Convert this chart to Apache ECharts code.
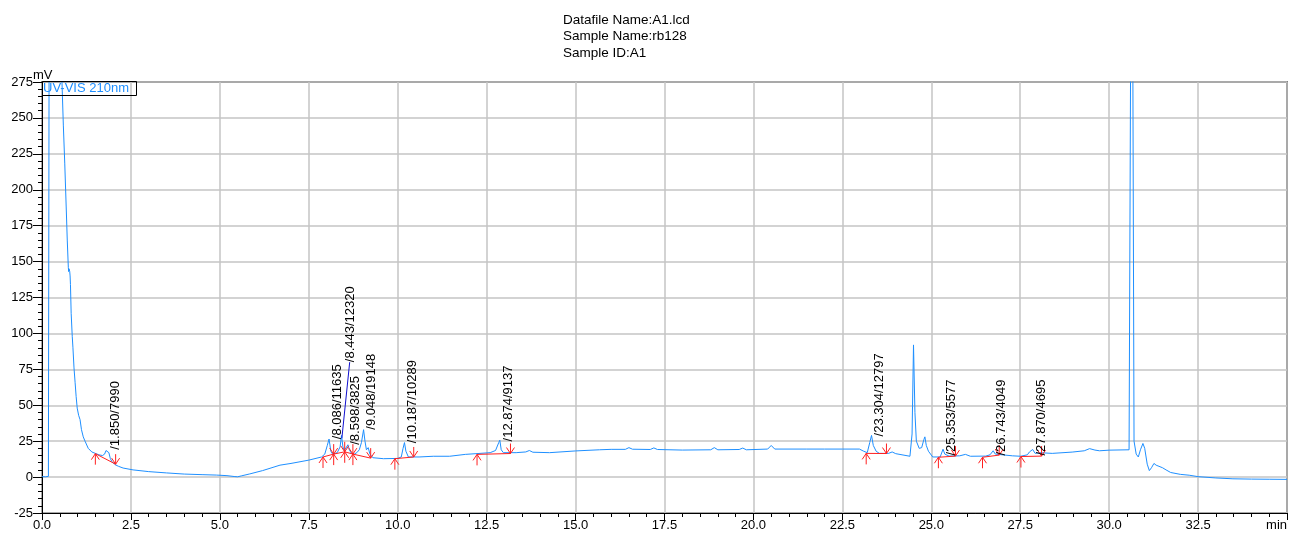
<!DOCTYPE html>
<html>
<head>
<meta charset="utf-8">
<script src="https://cdn.jsdelivr.net/npm/echarts@6/dist/echarts.min.js"></script>
<style>
html,body{margin:0;padding:0;background:#fff;}
#chart{width:1290px;height:535px;}
</style>
</head>
<body>
<div id="chart"></div>
<script>
// ---- chromatogram trace (time in min, signal in mV) ----
const timeMin = [
  0.00,0.05,0.10,0.15,0.18,0.20,0.35,0.53,0.60,0.64,0.68,0.71,0.74,0.75,0.76,0.78,0.79,0.80,0.82,0.85,
  0.87,0.90,0.93,0.96,0.99,1.03,1.07,1.11,1.16,1.21,1.30,1.40,1.50,1.60,1.70,1.76,1.80,1.84,1.88,1.92,
  1.96,2.05,2.15,2.28,2.56,3.00,3.50,4.00,4.50,4.90,5.20,5.40,5.50,5.60,5.84,6.20,6.69,7.00,7.50,7.86,
  7.95,8.02,8.07,8.12,8.17,8.24,8.30,8.38,8.42,8.46,8.50,8.55,8.60,8.64,8.70,8.78,8.85,8.92,8.98,9.04,
  9.08,9.12,9.17,9.22,9.30,9.60,10.00,10.10,10.15,10.19,10.23,10.30,10.60,11.00,11.46,11.90,12.20,12.60,12.75,12.84,
  12.87,12.91,12.97,13.33,13.60,13.70,13.80,14.27,15.00,15.67,16.00,16.40,16.50,16.60,17.10,17.20,17.30,18.00,18.80,18.90,
  19.00,19.60,19.70,19.80,20.40,20.50,20.60,21.50,22.00,22.50,22.98,23.10,23.20,23.27,23.32,23.37,23.45,23.54,23.80,23.90,
  24.00,24.40,24.46,24.50,24.54,24.58,24.66,24.73,24.79,24.82,24.86,24.92,25.04,25.25,25.33,25.38,25.50,25.80,25.96,26.10,
  26.53,26.65,26.74,26.80,27.00,27.28,27.51,27.70,27.76,27.80,27.85,27.92,28.04,28.40,28.96,29.30,29.45,29.50,29.60,29.73,
  30.00,30.56,30.59,30.605,30.635,30.665,30.70,30.76,30.82,30.88,30.95,31.00,31.07,31.13,31.19,31.26,31.32,31.40,31.50,31.60,
  31.73,32.00,32.25,32.50,33.00,33.48,34.00,34.50,35.00
];
const signalMV = [
  0.3,-0.5,0.2,0.3,0.5,300,1200,300,245,218,188,165,146,143,145,143,140,134,114,98,
  90,76,66,56,48,43,40,33,28,25,20,17.5,16.5,15.5,15,16,18.5,19.5,17,13,
  11,8.7,7.5,6.3,5,3.8,2.9,2.1,1.7,1.4,1.0,0.4,0.2,0.8,2.2,4.5,8.3,9.5,11.8,14,
  16,22,26.5,18,16,16.5,17,21,29,21,18.5,19,22.5,19,16.5,16,17,19,24,33,
  25,19,20.5,16,13.5,12.8,13,14,20,24,18,14,14,14.5,14.5,15.8,16.3,17,18.5,24,
  25.7,19,17,17,17.5,18.5,17.3,17,18.2,19,19.3,19.3,20.5,19.4,19.2,20.3,19.2,18.8,19,20.5,
  19,19.2,20.2,19,19.5,22,19.5,19.5,19.5,19.5,19.5,18,17,24,29,22,18,16.5,16.5,17.5,
  16.3,14.5,30,92,45,25,20,20.5,26,28,22,18,14,14,19.4,16,14.6,14.8,15.8,14.5,
  14.6,15.5,18.3,16,15.5,14.8,14.5,15.5,17.5,16.5,19.2,16.5,17,16.5,17.4,18.3,19.8,20,18.8,18.3,
  18.75,19,19.5,300,1500,300,25,16,14,19,23.4,20,9,4.5,6.5,9.5,8.3,7.5,6.5,5,
  3.2,1.9,1.3,0.3,-0.6,-1.2,-1.4,-1.5,-1.6
];

// ---- integrated peaks ----
const peakRT    = [1.850, 8.086, 8.443, 8.598, 9.048, 10.187, 12.874, 23.304, 25.353, 26.743, 27.870];
const peakArea  = [7990, 11635, 12320, 3825, 19148, 10289, 9137, 12797, 5577, 4049, 4695];
const labelBaseMV = [19, 26.4, 80, 22.5, 33, 23.6, 24.8, 28.3, 15, 15, 15];
// integration baseline start / end (min, mV)
const intStartT = [1.50, 7.90, 8.20, 8.51, 8.74, 9.92, 12.23, 23.17, 25.20, 26.44, 27.52];
const intStartV = [16.3, 14.0, 16.0, 17.6, 16.0, 12.8, 15.8, 16.5, 13.8, 13.8, 14.3];
const intEndT   = [2.07, 8.20, 8.51, 8.74, 9.24, 10.45, 13.17, 23.74, 25.68, 26.91, 28.10];
const intEndV   = [9.0, 16.0, 17.6, 16.0, 13.2, 14.0, 16.4, 16.4, 14.6, 15.3, 14.6];
// leader line for the crowded label (peak index, from, to)
const leaderPeak = 2;
const leaderFrom = [8.43, 27];
const leaderTo   = [8.65, 80];

// ---- axes ----
const xMin = 0, xMax = 35, xStep = 2.5;
const yMin = -25, yMax = 275, yStep = 25;

const headerLines = ['Datafile Name:A1.lcd', 'Sample Name:rb128', 'Sample ID:A1'];
const channelName = 'UV-VIS 210nm';
const yUnit = 'mV';

const FONT = '"Liberation Sans", Arial, sans-serif';
const BLUE = '#1e8fff';
const RED = '#ff2020';

const traceData = timeMin.map((t, i) => [t, signalMV[i]]);
const intData = intStartT.map((t, i) => [t, intStartV[i], intEndT[i], intEndV[i]]);
const labelData = peakRT.map((t, i) => i === leaderPeak ? [leaderTo[0], leaderTo[1]] : [t, labelBaseMV[i]]);

const chart = echarts.init(document.getElementById('chart'));
chart.setOption({
  animation: false,
  backgroundColor: '#fff',
  title: {
    text: headerLines.join('\n'),
    left: 563, top: 12, padding: 0,
    textStyle: { fontFamily: FONT, fontSize: 13.5, fontWeight: 'normal', color: '#000', lineHeight: 16.5 }
  },
  grid: { left: 42, right: 3, top: 82, bottom: 22, show: true, borderColor: '#222', borderWidth: 1.5, backgroundColor: 'transparent' },
  graphic: [
    { type: 'rect', left: 42, top: 81, shape: { width: 94, height: 14 }, style: { fill: 'transparent', stroke: '#000', lineWidth: 1 }, z: 100 },
    { type: 'text', left: 43, top: 81.5, style: { text: channelName, fill: BLUE, font: '13px ' + FONT }, z: 101 },
    { type: 'text', left: 33, top: 68.5, style: { text: yUnit, fill: '#000', font: '13px ' + FONT }, z: 101 }
  ],
  xAxis: {
    type: 'value', min: xMin, max: xMax, interval: xStep,
    axisLine: { onZero: false, lineStyle: { color: '#000', width: 1 } },
    axisTick: { show: true, length: 7, lineStyle: { color: '#000' } },
    minorTick: { show: true, splitNumber: 5, length: 4, lineStyle: { color: '#000' } },
    splitLine: { show: true, lineStyle: { color: '#c4c4c4', width: 1.5 } },
    axisLabel: {
      color: '#000', fontFamily: FONT, fontSize: 13, margin: 6,
      showMaxLabel: true, alignMaxLabel: 'right',
      formatter: v => (v >= xMax ? 'min' : v.toFixed(1))
    }
  },
  yAxis: {
    type: 'value', min: yMin, max: yMax, interval: yStep,
    axisLine: { show: true, lineStyle: { color: '#000', width: 1 } },
    axisTick: { show: true, length: 9, lineStyle: { color: '#000' } },
    minorTick: { show: true, splitNumber: 5, length: 4, lineStyle: { color: '#000' } },
    splitLine: { show: true, lineStyle: { color: '#c4c4c4', width: 1.5 } },
    axisLabel: { color: '#000', fontFamily: FONT, fontSize: 13, margin: 9, formatter: v => String(v) }
  },
  series: [
    {
      type: 'line', data: traceData, showSymbol: false, symbol: 'none', smooth: false,
      lineStyle: { color: BLUE, width: 1 }, clip: true, z: 3
    },
    {
      type: 'custom', data: intData, encode: { x: [0, 2], y: [1, 3] }, z: 4, clip: true,
      renderItem: function (params, api) {
        const s = api.coord([api.value(0), api.value(1)]);
        const e = api.coord([api.value(2), api.value(3)]);
        const st = { stroke: RED, lineWidth: 1, fill: 'none' };
        const L = (x1, y1, x2, y2) => ({ type: 'line', shape: { x1, y1, x2, y2 }, style: st });
        return {
          type: 'group',
          children: [
            L(s[0], s[1], e[0], e[1]),
            // up arrow at start
            L(s[0], s[1], s[0], s[1] + 11),
            L(s[0] - 4, s[1] + 6, s[0], s[1]),
            L(s[0] + 4, s[1] + 6, s[0], s[1]),
            // down arrow at end
            L(e[0], e[1] - 10, e[0], e[1]),
            L(e[0] - 4, e[1] - 6, e[0], e[1]),
            L(e[0] + 4, e[1] - 6, e[0], e[1])
          ]
        };
      }
    },
    {
      type: 'custom', data: labelData, encode: { x: 0, y: 1 }, z: 5, clip: false,
      renderItem: function (params, api) {
        const i = params.dataIndex;
        const p = api.coord([api.value(0), api.value(1)]);
        const children = [];
        let cx = p[0] + 8;
        if (i === leaderPeak) {
          const a = api.coord(leaderFrom);
          children.push({ type: 'line', shape: { x1: a[0], y1: a[1], x2: p[0], y2: p[1] }, style: { stroke: '#1010d0', lineWidth: 1 } });
          cx = p[0] + 1;
        }
        children.push({
          type: 'text', x: cx, y: p[1], rotation: Math.PI / 2,
          style: {
            text: '/' + peakRT[i].toFixed(3) + '/' + peakArea[i],
            fill: '#000', font: '13px ' + FONT, align: 'left', verticalAlign: 'middle'
          }
        });
        return { type: 'group', children };
      }
    }
  ]
});
</script>
</body>
</html>
